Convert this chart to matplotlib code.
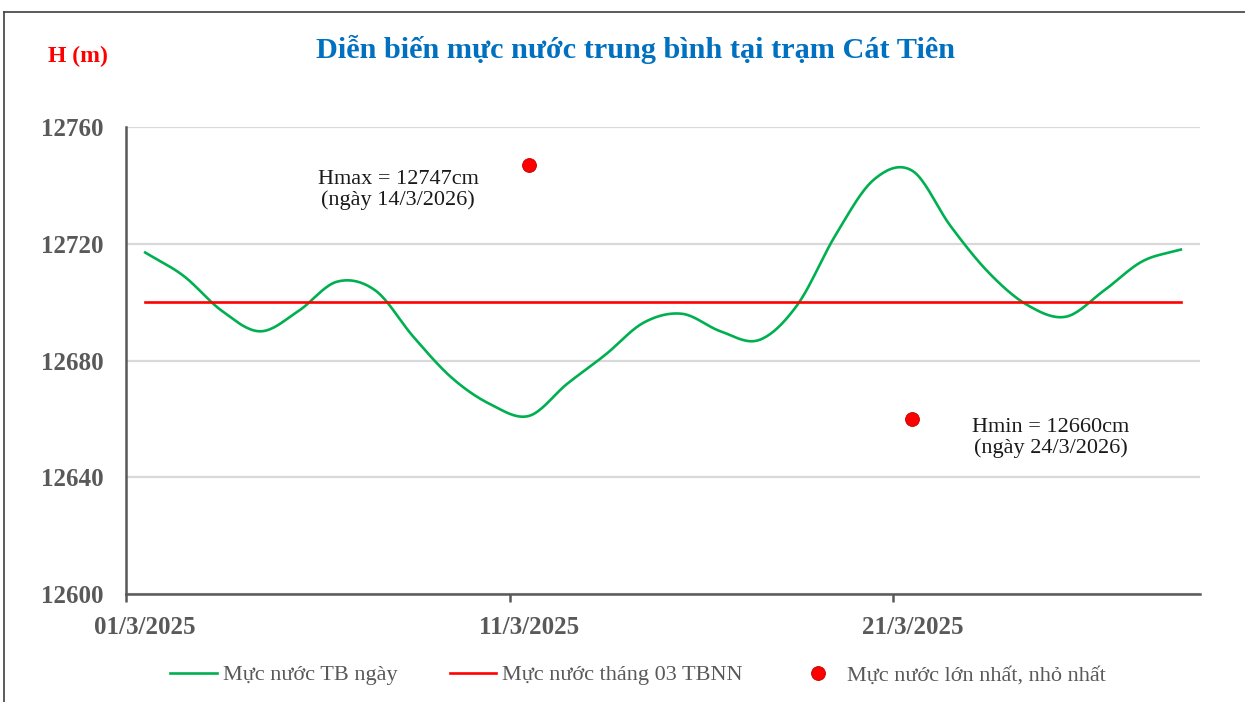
import numpy as np
import matplotlib
matplotlib.use("Agg")
import matplotlib.pyplot as plt
from matplotlib.lines import Line2D

plt.rcParams['font.family'] = ['Liberation Serif', 'DejaVu Serif']

# daily mean water level, 01/3 .. 28/3 (cm)
days = list(range(1, 29))
level = [12717, 12709, 12697, 12690, 12697, 12707, 12704, 12688, 12674, 12665,
         12661, 12672, 12682, 12693, 12696, 12690, 12687, 12699, 12723, 12742,
         12745, 12726, 12710, 12699, 12695, 12704, 12714, 12718]
avg_month = 12700
ext_days = [11, 21]
ext_vals = [12747, 12660]

xtick_days = [1, 11, 21]
xtick_labels = ['01/3/2025', '11/3/2025', '21/3/2025']
yticks = [12600, 12640, 12680, 12720, 12760]

GRAY = '#595959'


def smooth(x, y, n=20):
    # catmull-rom style smoothing like the spreadsheet "smoothed line"
    x = np.asarray(x, float)
    y = np.asarray(y, float)
    px = np.concatenate([[2 * x[0] - x[1]], x, [2 * x[-1] - x[-2]]])
    py = np.concatenate([[2 * y[0] - y[1]], y, [2 * y[-1] - y[-2]]])
    t = np.linspace(0, 1, n, endpoint=False)
    xs, ys = [], []
    for i in range(1, len(px) - 2):
        for p, out in ((px, xs), (py, ys)):
            p0, p1, p2, p3 = p[i - 1], p[i], p[i + 1], p[i + 2]
            out.extend(0.5 * (2 * p1 + (-p0 + p2) * t
                              + (2 * p0 - 5 * p1 + 4 * p2 - p3) * t ** 2
                              + (-p0 + 3 * p1 - 3 * p2 + p3) * t ** 3))
    xs.append(x[-1])
    ys.append(y[-1])
    return np.array(xs), np.array(ys)


fig = plt.figure(figsize=(12.45, 7.02), dpi=100)
ax = fig.add_axes([126 / 1245, 1 - 594 / 702, (1200 - 126) / 1245, (594 - 127) / 702])

ax.set_ylim(12600, 12760)
ax.set_xlim(0.5, 28.5)
ax.set_yticks(yticks)
ax.grid(axis='y', color='#D9D9D9', lw=1.6)
ax.set_axisbelow(True)

sx, sy = smooth(days, level)
ax.plot(sx, sy, color='#00B050', lw=1.9, label='Mực nước TB ngày')
ax.plot([days[0], days[-1]], [avg_month, avg_month], color='#FF0000', lw=1.9,
        label='Mực nước tháng 03 TBNN')
ax.plot(ext_days, ext_vals, 'o', color='#FF0000', mec='#C00000', mew=0.6, ms=10,
        label='Mực nước lớn nhất, nhỏ nhất', zorder=5)

ax.text(7.6, 12738.5, 'Hmax = 12747cm\n(ngày 14/3/2026)', ha='center', va='center',
        fontsize=16, color='#1a1a1a', linespacing=1.1)
ax.text(24.6, 12653.5, 'Hmin = 12660cm\n(ngày 24/3/2026)', ha='center', va='center',
        fontsize=16, color='#1a1a1a', linespacing=1.1)

for s in ['top', 'right']:
    ax.spines[s].set_visible(False)
for s in ['left', 'bottom']:
    ax.spines[s].set_color(GRAY)
    ax.spines[s].set_linewidth(1.8)

ax.set_xticks(xtick_days)
ax.set_xticklabels(xtick_labels)
ax.set_xticks([0.5, 10.5, 20.5], minor=True)
ax.tick_params(axis='x', which='major', length=0, pad=16, labelsize=18, labelcolor=GRAY)
ax.tick_params(axis='x', which='minor', length=6, width=1.8, color=GRAY, direction='out')
ax.tick_params(axis='y', length=0, pad=16, labelsize=18, labelcolor=GRAY)
for lab in ax.get_xticklabels() + ax.get_yticklabels():
    lab.set_fontweight('bold')

fig.text(635 / 1245, 1 - 49 / 702, 'Diễn biến mực nước trung bình tại trạm Cát Tiên',
         ha='center', va='center', fontsize=21.8, fontweight='bold', color='#0070C0')
fig.text(78 / 1245, 1 - 56 / 702, 'H (m)', ha='center', va='center', fontsize=17,
         fontweight='bold', color='#FF0000')

fig.legend(loc='center', bbox_to_anchor=(638 / 1245, 1 - 675 / 702), ncol=3, frameon=False,
           fontsize=16, labelcolor=GRAY, handlelength=2.1, handletextpad=0.25,
           columnspacing=2.35)

# outer frame (top and left edges visible in the original crop)
fig.add_artist(Line2D([4 / 1245, 1], [1 - 12 / 702, 1 - 12 / 702], color='#404040', lw=1.2,
                      transform=fig.transFigure))
fig.add_artist(Line2D([4 / 1245, 4 / 1245], [0, 1 - 12 / 702], color='#404040', lw=1.2,
                      transform=fig.transFigure))

fig.savefig('out.png', dpi=100)
